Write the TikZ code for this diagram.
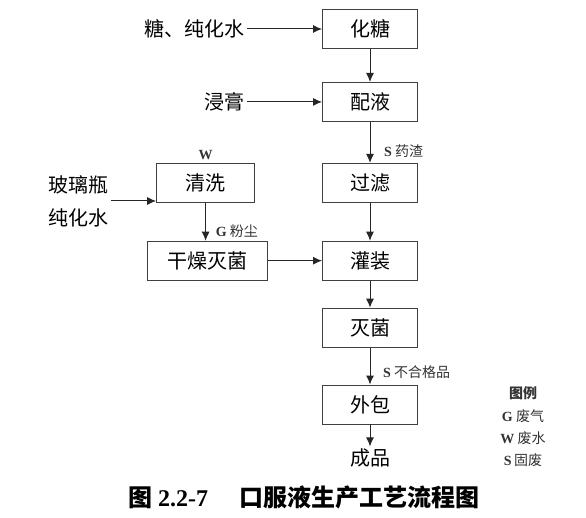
\documentclass[tikz,border=0pt]{standalone}
\usepackage{fontspec}
\setmainfont{Noto Sans CJK SC}
\newfontfamily\latin{Liberation Serif}
\usetikzlibrary{arrows.meta, positioning}

\begin{document}
\begin{tikzpicture}[
    x=1pt, y=-1pt,
    node distance=33pt,
    stepbox/.style={rectangle, draw=black!75, line width=0.9pt, align=center, minimum width=95pt, minimum height=39pt, font=\fontsize{20}{24}\selectfont},
    source/.style={inner sep=2pt, align=left, font=\fontsize{20}{33}\selectfont},
    tag/.style={inner sep=1pt, font=\fontsize{14}{16}\selectfont, text=black!80},
    arrow/.style={-{Latex[length=9pt, width=8pt]}, line width=1pt, draw=black!85}
]
\useasboundingbox (0,0) rectangle (586,518);

\node[stepbox] (huatang) at (370,29) {化糖};
\node[stepbox, below=of huatang] (peiye) {配液};
\node[stepbox, below=41pt of peiye] (guolv) {过滤};
\node[stepbox, below=38pt of guolv] (guanzhuang) {灌装};
\node[stepbox, below=27pt of guanzhuang] (miejun) {灭菌};
\node[stepbox, below=37pt of miejun] (waibao) {外包};
\node[source, below=22pt of waibao] (chengpin) {成品};

\node[stepbox, minimum width=98pt, left=67pt of guolv] (qingxi) {清洗};
\node[stepbox, minimum width=120pt, left=54pt of guanzhuang] (ganzao) {干燥灭菌};

\node[source, left=75pt of huatang] (tang) {糖、纯化水};
\node[source, left=75pt of peiye] (jingao) {浸膏};
\node[source, anchor=east] (bottle) at (111,201) {玻璃瓶\\纯化水};

\node[tag, above=2pt of qingxi] (wqx) {\latin\bfseries W};
\node[tag, anchor=west] (szha) at ([xshift=13pt,yshift=12pt]guolv.north) {{\latin\bfseries S}\ 药渣};
\node[tag, anchor=west] (gfen) at ([xshift=7pt,yshift=10pt]ganzao.north) {{\latin\bfseries G}\ 粉尘};
\node[tag, anchor=west] (sbhg) at ([xshift=12pt,yshift=12pt]waibao.north) {{\latin\bfseries S}\ 不合格品};

\node[tag, align=center, font=\fontsize{14}{22.3}\selectfont] (legend) at (523,427) {\bfseries 图例\\{\latin\bfseries G}\ 废气\\{\latin\bfseries W}\ 废水\\{\latin\bfseries S}\,固废};

\node[font=\fontsize{24}{28}\selectfont\bfseries] (caption) at (304,497) {图 {\latin 2.2-7}\hspace{1.3em}口服液生产工艺流程图};

\draw[arrow] (tang) -- (huatang);
\draw[arrow] (huatang) -- (peiye);
\draw[arrow] (jingao) -- (peiye);
\draw[arrow] (peiye) -- (guolv);
\draw[arrow] (guolv) -- (guanzhuang);
\draw[arrow] (bottle.east) -- (bottle.east -| qingxi.west);
\draw[arrow] (qingxi) -- (qingxi |- ganzao.north);
\draw[arrow] (ganzao) -- (guanzhuang);
\draw[arrow] (guanzhuang) -- (miejun);
\draw[arrow] (miejun) -- (waibao);
\draw[arrow] (waibao) -- (chengpin);
\end{tikzpicture}
\end{document}
